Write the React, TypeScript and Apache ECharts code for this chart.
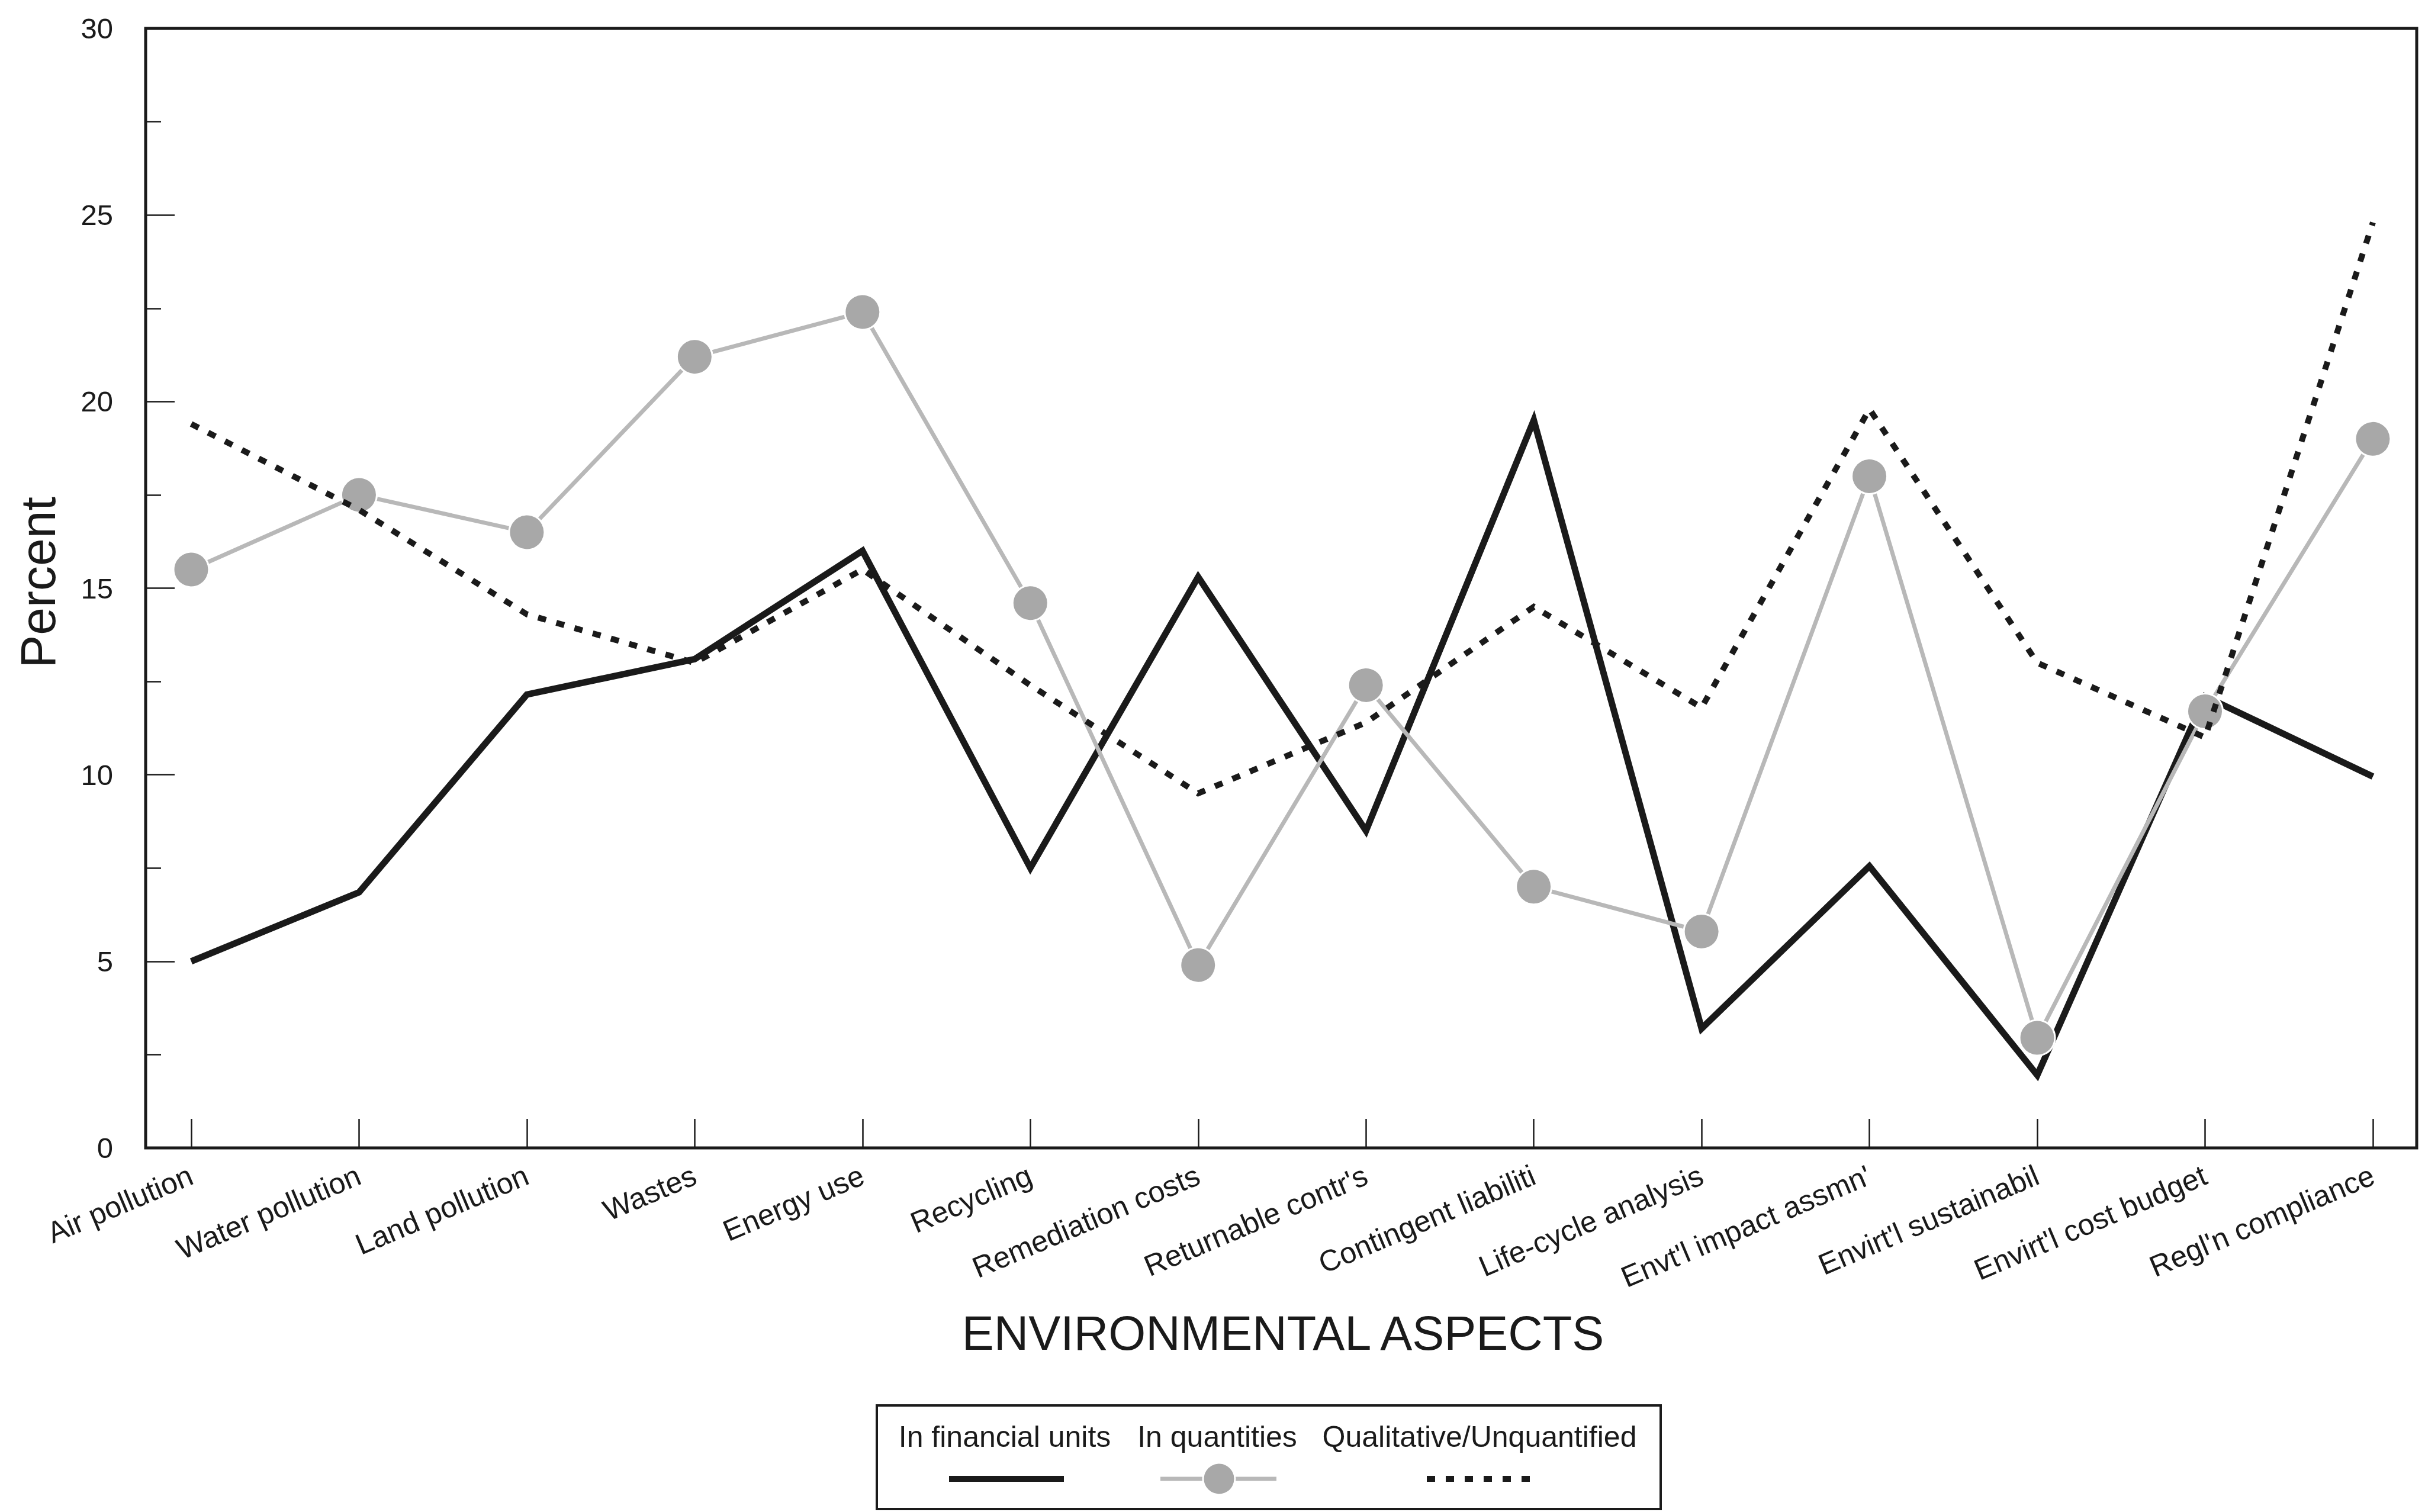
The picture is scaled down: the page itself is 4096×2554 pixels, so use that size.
import React, { useEffect, useRef } from 'react';
import * as echarts from 'echarts';

// Environmental aspects reported by firms, percent of respondents per reporting mode
const categories = [
  'Air pollution',
  'Water pollution',
  'Land pollution',
  'Wastes',
  'Energy use',
  'Recycling',
  'Remediation costs',
  "Returnable contr's",
  'Contingent liabiliti',
  'Life-cycle analysis',
  "Envt'l impact assmn'",
  "Envirt'l sustainabil",
  "Envirt'l cost budget",
  "Regl'n compliance",
];

const financialUnits = [5.0, 6.85, 12.15, 13.1, 16.0, 7.5, 15.3, 8.5, 19.5, 3.2, 7.55, 1.95, 12.1, 9.95];
const inQuantities = [15.5, 17.5, 16.5, 21.2, 22.4, 14.6, 4.9, 12.4, 7.0, 5.8, 18.0, 2.95, 11.7, 19.0];
const qualitative = [19.4, 17.1, 14.3, 13.0, 15.5, 12.4, 9.5, 11.4, 14.5, 11.8, 19.8, 13.0, 11.0, 24.8];

const seriesNames = ['In financial units', 'In quantities', 'Qualitative/Unquantified'];
const yMin = 0;
const yMax = 30;
const yStep = 5;

const FONT = '"Liberation Sans", Arial, Helvetica, sans-serif';
const INK = '#1a1a1a';
const GREY_LINE = '#b8b8b8';
const GREY_DOT = '#a8a8a8';
const DOTS = [14, 18];

export default function App() {
  const ref = useRef<HTMLDivElement>(null);

  useEffect(() => {
    const chart = echarts.init(ref.current!, null, { renderer: 'svg' });

    const frame = { left: 246, right: 14, top: 48, bottom: 615 };
    const plot = { left: 323, right: 88, top: 48, bottom: 615 };

    chart.setOption({
      animation: false,
      backgroundColor: '#ffffff',
      textStyle: { fontFamily: FONT, color: INK },
      grid: [
        { ...frame, show: true, borderColor: INK, borderWidth: 5, backgroundColor: 'transparent', outerBoundsMode: 'none' },
        { ...plot, outerBoundsMode: 'none' },
      ],
      xAxis: [
        { gridIndex: 0, type: 'value', min: 0, max: 1, show: false },
        {
          gridIndex: 1,
          type: 'category',
          data: categories,
          boundaryGap: false,
          axisLine: { show: false },
          axisTick: { show: true, inside: true, length: 49, interval: 0, lineStyle: { color: INK, width: 2.5 } },
          axisLabel: { interval: 0, rotate: 23, margin: 44, fontSize: 50, color: INK, fontFamily: FONT },
          splitLine: { show: false },
        },
      ],
      yAxis: [
        {
          gridIndex: 0,
          type: 'value',
          min: yMin,
          max: yMax,
          interval: yStep,
          axisLine: { show: false },
          axisTick: { show: true, inside: true, length: 49, lineStyle: { color: INK, width: 2.5 } },
          minorTick: { show: true, splitNumber: 2, length: 26, lineStyle: { color: INK, width: 2.5 } },
          axisLabel: { margin: 55, fontSize: 49, color: INK, fontFamily: FONT },
          splitLine: { show: false },
        },
        { gridIndex: 1, type: 'value', min: yMin, max: yMax, show: false },
      ],
      series: [
        {
          name: seriesNames[0],
          type: 'line',
          xAxisIndex: 1,
          yAxisIndex: 1,
          data: financialUnits,
          symbol: 'none',
          lineStyle: { color: INK, width: 11, join: 'miter' },
          z: 3,
        },
        {
          name: seriesNames[1],
          type: 'line',
          xAxisIndex: 1,
          yAxisIndex: 1,
          data: inQuantities,
          symbol: 'circle',
          symbolSize: 60,
          showSymbol: true,
          showAllSymbol: true,
          itemStyle: { color: GREY_DOT, borderColor: '#ffffff', borderWidth: 3 },
          lineStyle: { color: GREY_LINE, width: 7 },
          z: 4,
        },
        {
          name: seriesNames[2],
          type: 'line',
          xAxisIndex: 1,
          yAxisIndex: 1,
          data: qualitative,
          symbol: 'none',
          lineStyle: { color: INK, width: 10, type: DOTS, join: 'miter' },
          z: 5,
        },
      ],
      graphic: [
        {
          type: 'text',
          x: 64,
          y: 984,
          rotation: Math.PI / 2,
          style: { text: 'Percent', fontSize: 84, fontFamily: FONT, fill: INK, align: 'center', verticalAlign: 'middle' },
        },
        {
          type: 'text',
          x: 2167,
          y: 2252,
          style: { text: 'ENVIRONMENTAL ASPECTS', fontSize: 81, fontFamily: FONT, fill: INK, align: 'center', verticalAlign: 'middle' },
        },
        {
          type: 'group',
          children: [
            {
              type: 'rect',
              shape: { x: 1481, y: 2374, width: 1324, height: 175 },
              style: { fill: '#ffffff', stroke: INK, lineWidth: 4 },
            },
            {
              type: 'text',
              x: 1697,
              y: 2427,
              style: { text: seriesNames[0], fontSize: 50, fontFamily: FONT, fill: INK, align: 'center', verticalAlign: 'middle' },
            },
            {
              type: 'text',
              x: 2056,
              y: 2427,
              style: { text: seriesNames[1], fontSize: 50, fontFamily: FONT, fill: INK, align: 'center', verticalAlign: 'middle' },
            },
            {
              type: 'text',
              x: 2499,
              y: 2427,
              style: { text: seriesNames[2], fontSize: 50, fontFamily: FONT, fill: INK, align: 'center', verticalAlign: 'middle' },
            },
            {
              type: 'line',
              shape: { x1: 1603, y1: 2498, x2: 1797, y2: 2498 },
              style: { stroke: INK, lineWidth: 10 },
            },
            {
              type: 'line',
              shape: { x1: 1960, y1: 2498, x2: 2156, y2: 2498 },
              style: { stroke: GREY_LINE, lineWidth: 7 },
            },
            {
              type: 'circle',
              shape: { cx: 2059, cy: 2498, r: 27 },
              style: { fill: GREY_DOT, stroke: '#ffffff', lineWidth: 3 },
            },
            {
              type: 'line',
              shape: { x1: 2410, y1: 2498, x2: 2602, y2: 2498 },
              style: { stroke: INK, lineWidth: 10, lineDash: DOTS },
            },
          ],
        },
      ],
    });

    return () => chart.dispose();
  }, []);

  return (
    <div
      ref={ref}
      style={{ position: 'fixed', left: 0, top: 0, width: 4096, height: 2554, background: '#ffffff' }}
    />
  );
}
